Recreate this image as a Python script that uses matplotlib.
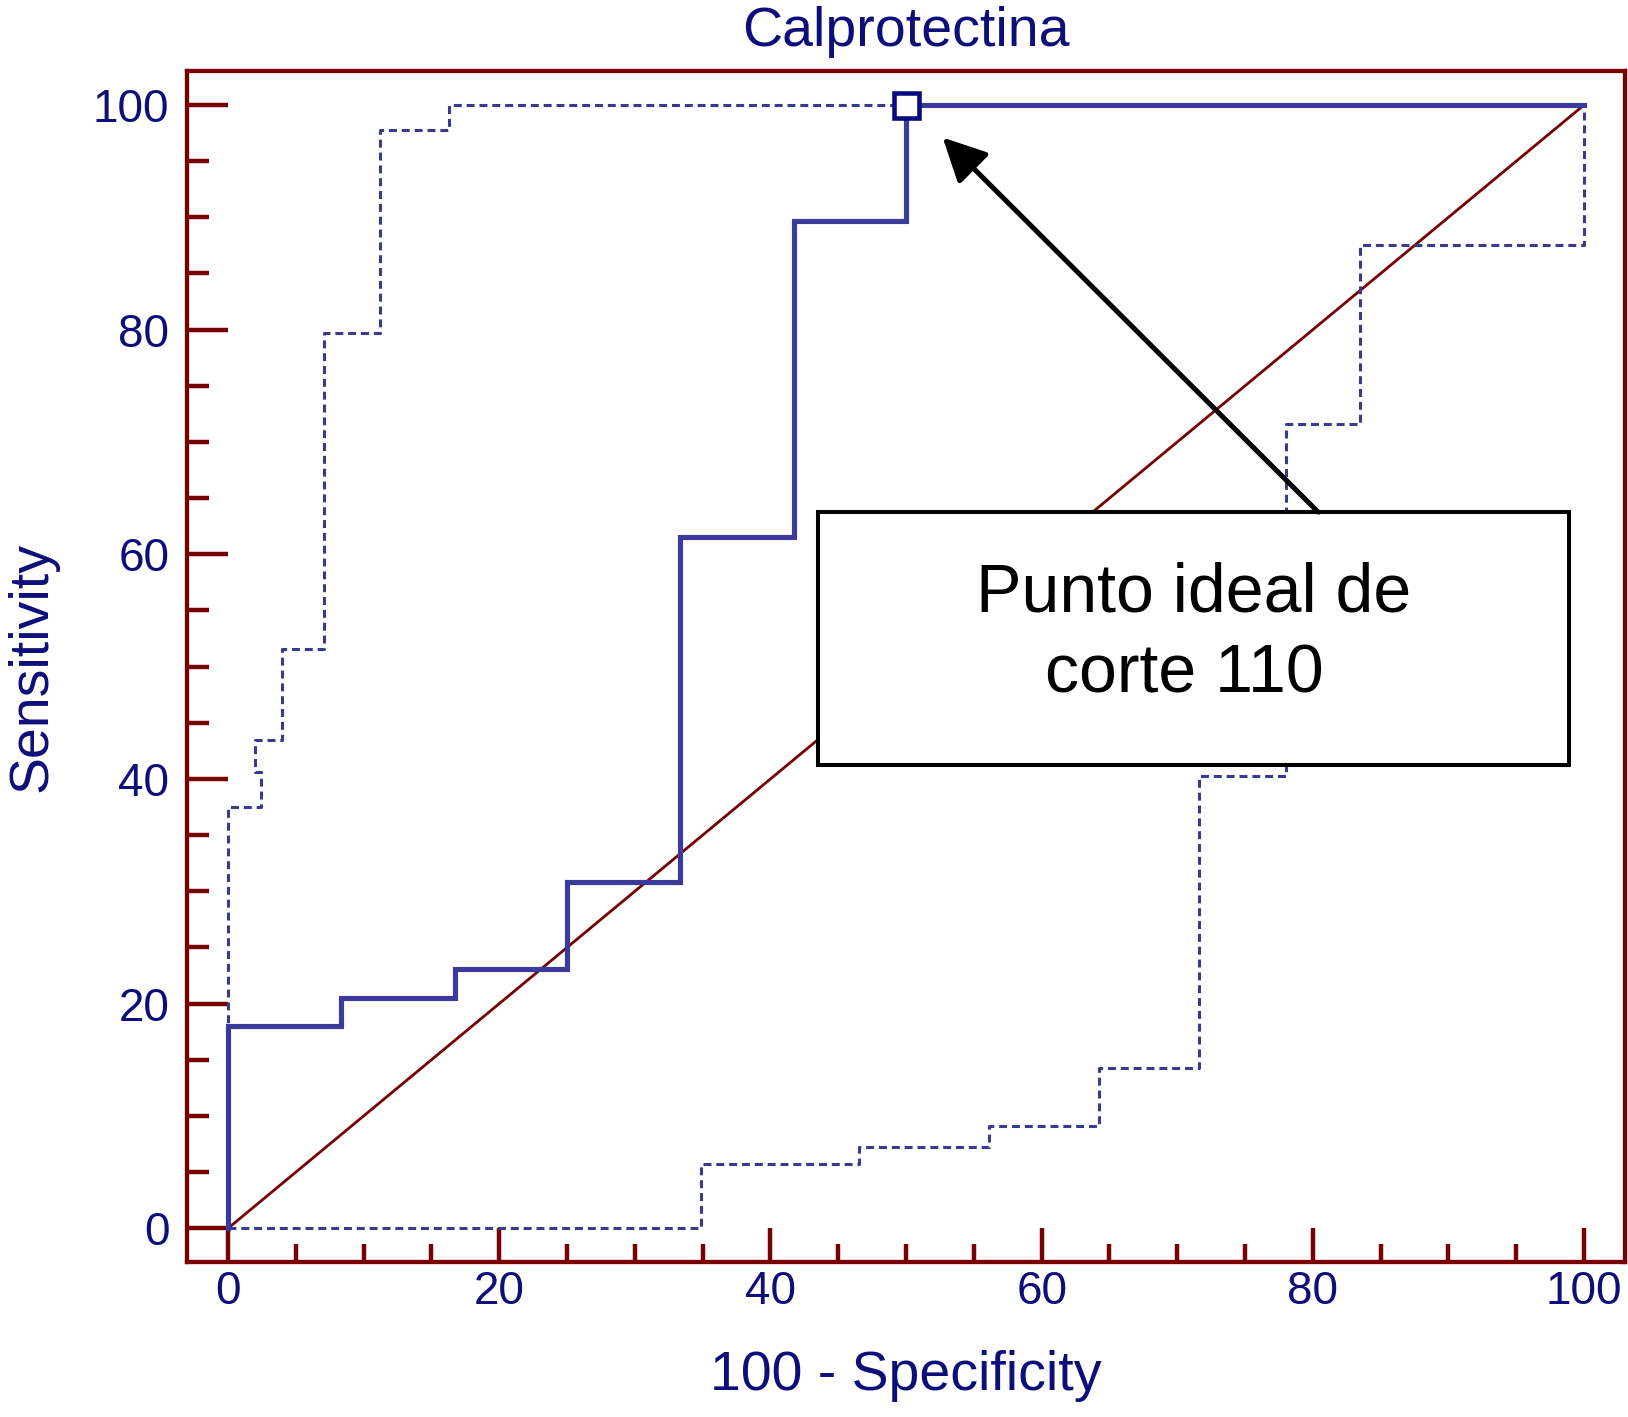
import matplotlib
matplotlib.use("Agg")
import matplotlib.pyplot as plt
from matplotlib.patches import Rectangle
from matplotlib.ticker import MultipleLocator

plt.rcParams['font.family'] = ['Liberation Sans', 'DejaVu Sans']

# ---- data ----
# ROC curve (step, drawn with steps-post)
roc_fpr = [0, 0, 8.3, 16.7, 25.0, 33.3, 41.7, 50.0, 100]
roc_sens = [0, 18.0, 20.5, 23.1, 30.8, 61.5, 89.7, 100, 100]
# upper confidence bound
upper_fpr = [0, 0, 2.4, 2.0, 4.0, 7.05, 11.2, 16.3, 100]
upper_sens = [0, 37.5, 40.6, 43.5, 51.6, 79.7, 97.8, 100, 100]
# lower confidence bound
lower_fpr = [0, 34.9, 46.5, 56.1, 64.2, 71.6, 78.0, 83.5, 100]
lower_sens = [0, 5.7, 7.2, 9.1, 14.3, 40.3, 71.6, 87.5, 100]
# reference diagonal
diag_x = [0, 100]
diag_y = [0, 100]
# ideal cut-off point
ideal_x = [50]
ideal_y = [100]

title = "Calprotectina"
xlabel = "100 - Specificity"
ylabel = "Sensitivity"
note = "Punto ideal de\ncorte 110 "
xticks = [0, 20, 40, 60, 80, 100]
yticks = [0, 20, 40, 60, 80, 100]

# ---- styles ----
RED = '#780000'
NAVY = '#0e0e7a'
BLUE = '#3a3a9a'
DASH = '#3a3a8c'

fig = plt.figure(figsize=(16.28, 14.17), dpi=100)
ax = fig.add_axes([0.1151, 0.1094, 0.8829, 0.8403])
ax.set_xlim(-3, 103)
ax.set_ylim(-3, 103)

ax.plot(diag_x, diag_y, color=RED, lw=2.0, zorder=2)
ax.plot(upper_fpr, upper_sens, drawstyle='steps-post', color=DASH, lw=2.2,
        linestyle=(0, (2.6, 1.6)), zorder=3)
ax.plot(lower_fpr, lower_sens, drawstyle='steps-post', color=DASH, lw=2.2,
        linestyle=(0, (2.6, 1.6)), zorder=3)
ax.plot(roc_fpr, roc_sens, drawstyle='steps-post', color=BLUE, lw=3.7,
        solid_joinstyle='miter', zorder=4)
ax.plot(ideal_x, ideal_y, marker='s', ms=18, mfc='white', mec='#0a0a80',
        mew=3.3, ls='none', zorder=6)

# annotation box
box = Rectangle((43.5, 41.2), 55.4, 22.55, facecolor='white', edgecolor='black',
                lw=2.9, zorder=7)
ax.add_patch(box)
ax.text(71.2, 52.9, note, ha='center', va='center', multialignment='center',
        fontsize=49, color='black', linespacing=1.33, zorder=8)
ax.annotate('', xy=(52.7, 97.1), xytext=(80.4, 63.75),
            arrowprops=dict(arrowstyle='-|>,head_length=1.9,head_width=0.95',
                            lw=3.6, color='black', shrinkA=0, shrinkB=0,
                            mutation_scale=14),
            zorder=7)

# spines and ticks
for s in ax.spines.values():
    s.set_color(RED)
    s.set_linewidth(3.1)

ax.set_xticks(xticks)
ax.set_yticks(yticks)
ax.xaxis.set_minor_locator(MultipleLocator(5))
ax.yaxis.set_minor_locator(MultipleLocator(5))
ax.tick_params(axis='both', which='both', direction='in', color=RED,
               width=3.2, top=False, right=False)
ax.tick_params(axis='x', which='major', length=24.5, pad=6.0,
               labelsize=33, labelcolor=NAVY)
ax.tick_params(axis='x', which='minor', length=13)
ax.tick_params(axis='y', which='major', length=29.5, pad=13,
               labelsize=33, labelcolor=NAVY)
ax.tick_params(axis='y', which='minor', length=15.8)

ax.set_title(title, fontsize=40, color=NAVY, pad=18)
ax.set_xlabel(xlabel, fontsize=40, color=NAVY)
ax.xaxis.set_label_coords(0.5, -0.1075)
ax.xaxis.label.set_va('baseline')
ax.set_ylabel(ylabel, fontsize=40, color=NAVY)
ax.yaxis.set_label_coords(-0.098, 0.5)
ax.yaxis.label.set_va('baseline')

fig.savefig('out.png', dpi=100)
